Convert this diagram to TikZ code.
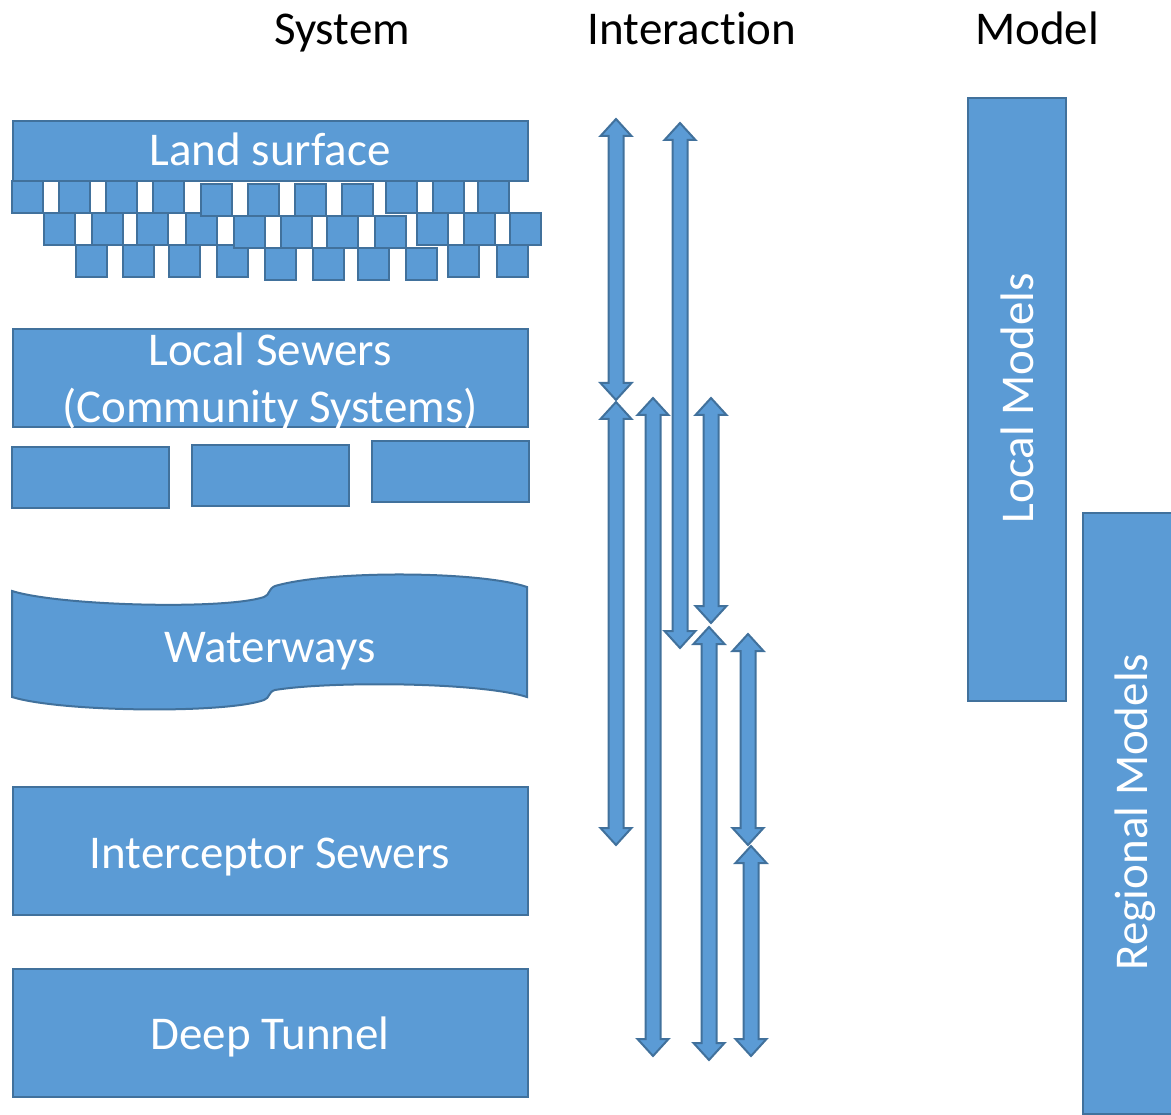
\documentclass[tikz,border=0pt]{standalone}
\usepackage{fontspec}
\setmainfont{Carlito}[Ligatures=NoCommon]
\usetikzlibrary{calc}
\definecolor{bfill}{HTML}{5B9BD5}
\definecolor{bline}{HTML}{41719C}
\tikzset{
  boxsh/.style={draw=bline, fill=bfill, line width=2pt, inner sep=0pt, anchor=north west},
  brick/.style={draw=bline, fill=bfill, line width=2.2pt},
  wtxt/.style={text=white, font=\fontsize{47}{57}\selectfont, inner sep=0pt, anchor=base},
  htxt/.style={text=black, font=\fontsize{47}{57}\selectfont, inner sep=0pt, anchor=base},
  arrsh/.style={draw=bline, fill=bfill, line width=2pt, line join=miter}
}
\newcommand{\dblarrow}[2]{%
  \draw[arrsh] (#1) -- ($(#1)+(15.5,17)$) -- ($(#1)+(7.5,17)$) -- ($(#2)+(7.5,-17)$)
    -- ($(#2)+(15.5,-17)$) -- (#2) -- ($(#2)+(-15.5,-17)$) -- ($(#2)+(-7.5,-17)$)
    -- ($(#1)+(-7.5,17)$) -- ($(#1)+(-15.5,17)$) -- cycle;}
\begin{document}
\begin{tikzpicture}[x=1pt,y=-1pt]
\useasboundingbox (0,0) rectangle (1171,1115);

% headings
\node[htxt] (hsys) at (342,45) {System};
\node[htxt] (hint) at (692,45) {Interaction};
\node[htxt] (hmod) at (1037,45) {Model};

% land surface
\node[boxsh, minimum width=515pt, minimum height=60pt] (land) at (12,120) {};
\node[wtxt] (landt) at (270,166) {Land surface};

% bricks
\foreach \x in {76,123,169,217,448,497} \draw[brick] (\x,245) rectangle ++(31,32);
\foreach \x in {265,313,358,406} \draw[brick] (\x,248) rectangle ++(31,32);
\foreach \x in {44,92,137,186,417,464,510} \draw[brick] (\x,213) rectangle ++(31,32);
\foreach \x in {234,281,327,375} \draw[brick] (\x,216) rectangle ++(31,32);
\foreach \x in {12,59,106,153,386,433,478} \draw[brick] (\x,181) rectangle ++(31,32);
\foreach \x in {201,248,295,342} \draw[brick] (\x,184) rectangle ++(31,32);

% local sewers
\node[boxsh, minimum width=515pt, minimum height=98pt] (local) at (12,328) {};
\node[wtxt] (localt1) at (270,366) {Local Sewers};
\node[wtxt] (localt2) at (270,423) {(Community Systems)};
\node[boxsh, minimum width=157pt, minimum height=61pt] (pipe1) at (11,446) {};
\node[boxsh, minimum width=157pt, minimum height=61pt] (pipe2) at (191,444) {};
\node[boxsh, minimum width=157pt, minimum height=61pt] (pipe3) at (371,440) {};

% waterways
\draw[boxsh] (12,591) .. controls (60,606) and (225,610) .. (264,597)
  .. controls (270,595) and (268,589) .. (275,586)
  .. controls (330,570) and (480,571) .. (527,587)
  -- (527,697)
  .. controls (480,682) and (330,681) .. (275,690)
  .. controls (268,692) and (270,698) .. (264,700)
  .. controls (225,714) and (60,712) .. (12,697) -- cycle;
\node[wtxt] (waterst) at (270,662) {Waterways};

% interceptor, deep tunnel
\node[boxsh, minimum width=515pt, minimum height=128pt] (inter) at (12,786) {};
\node[wtxt] (intert) at (270,868) {Interceptor Sewers};
\node[boxsh, minimum width=515pt, minimum height=128pt] (deep) at (12,968) {};
\node[wtxt] (deept) at (270,1049) {Deep Tunnel};

% models
\node[boxsh, minimum width=98pt, minimum height=603pt] (lmod) at (967,97) {};
\node[wtxt, rotate=90] (lmodt) at (1033,398) {Local Models};
\node[boxsh, minimum width=100pt, minimum height=601pt] (rmod) at (1082,512) {};
\node[wtxt, rotate=90] (rmodt) at (1147,812) {Regional Models};

% interaction arrows
\coordinate (a1t) at (616,119);  \coordinate (a1b) at (616,400);
\coordinate (a2t) at (616,402);  \coordinate (a2b) at (616,845);
\coordinate (a3t) at (680,123);  \coordinate (a3b) at (680,648);
\coordinate (a4t) at (653,398);  \coordinate (a4b) at (653,1056);
\coordinate (a5t) at (711,398);  \coordinate (a5b) at (711,623);
\coordinate (a6t) at (709,627);  \coordinate (a6b) at (709,1060);
\coordinate (a7t) at (748,634);  \coordinate (a7b) at (748,845);
\coordinate (a8t) at (751,846);  \coordinate (a8b) at (751,1056);
\dblarrow{a1t}{a1b}
\dblarrow{a2t}{a2b}
\dblarrow{a3t}{a3b}
\dblarrow{a4t}{a4b}
\dblarrow{a5t}{a5b}
\dblarrow{a6t}{a6b}
\dblarrow{a7t}{a7b}
\dblarrow{a8t}{a8b}
\end{tikzpicture}
\end{document}
